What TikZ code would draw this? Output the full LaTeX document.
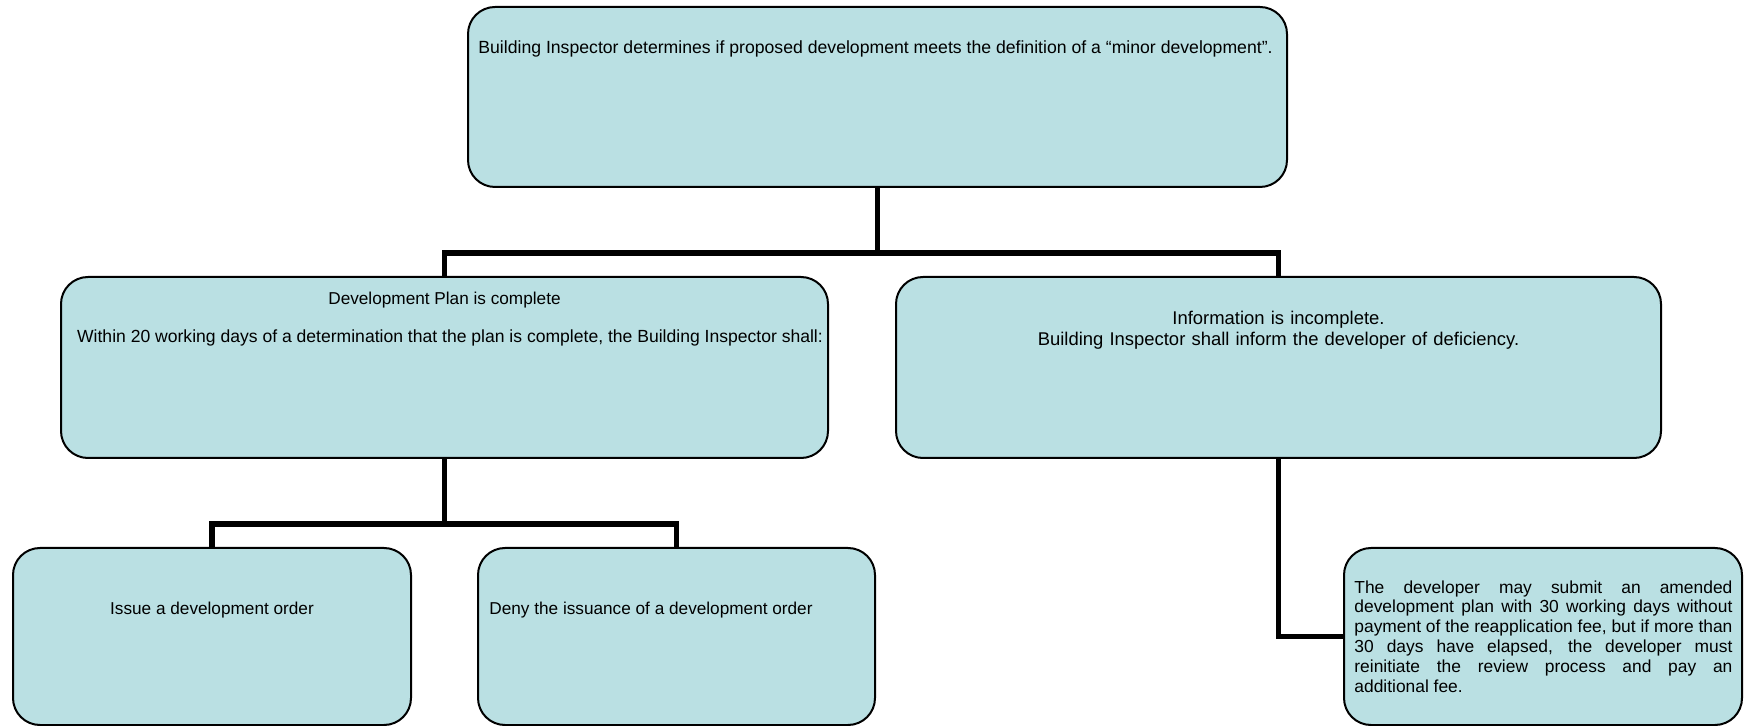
\documentclass[tikz,border=0pt]{standalone}
\usepackage{fontspec}
\setmainfont{Liberation Sans}
\usetikzlibrary{positioning}
\definecolor{boxfill}{RGB}{186,224,227}
\tikzset{
	box/.style={draw, fill=boxfill, line width=1pt, rounded corners=13.5pt, inner sep=0pt, outer sep=0pt},
	link/.style={line width=2.75pt},
	txt/.style={inner sep=0pt, font=\fontsize{8.6}{10}\selectfont},
}
\begin{document}
\begin{tikzpicture}[x=0.5pt,y=-0.5pt]
		
		\useasboundingbox (0,0) rectangle (1750,726);
		
		%Top box
		\node[box, minimum width=409.5pt, minimum height=90pt] (top) at (877.5,97) {};
		\node[txt, font=\fontsize{8.82}{10}\selectfont, anchor=base west] (toptext) at (478,54) {Building Inspector determines if proposed development meets the definition of a “minor development”.};
		
		%Plan complete
		\node[box, minimum width=383.5pt, minimum height=90.5pt] (complete) at (444.5,367.5) {};
		\node[txt, anchor=base] (completetitle) at (444.5,305) {Development Plan is complete};
		\node[txt, font=\fontsize{8.78}{10}\selectfont, anchor=base] (completebody) at (450,343) {Within 20 working days of a determination that the plan is complete, the Building Inspector shall:};
		
		%Information incomplete
		\node[box, minimum width=382.5pt, minimum height=90.5pt] (incomplete) at (1278.5,367.5) {};
		\node[txt, font=\fontsize{9.22}{10.5}\selectfont, text width=360pt, align=center, anchor=base] (incompletetext) at (1278.5,325) {Information is incomplete.\\ Building Inspector shall inform the developer of deficiency.};
		
		%Issue and deny
		\node[box, minimum width=199pt, minimum height=88.5pt] (issue) at (212,636.5) {};
		\node[txt, anchor=base] (issuetext) at (212,614) {Issue a development order};
		\node[box, minimum width=198.5pt, minimum height=88.5pt] (deny) at (676.5,636.5) {};
		\node[txt, anchor=base west] (denytext) at (489,614) {Deny the issuance of a development order};
		
		%Reapplication
		\node[box, minimum width=199pt, minimum height=88.5pt] (reapply) at (1543,636.5) {};
		\node[txt, font=\fontsize{8.7}{9.9}\selectfont, text width=189pt, align=justify, anchor=base west] (reapplytext) at (1354,593) {The developer may submit an amended\linebreak development plan with 30 working days without\linebreak payment of the reapplication fee, but if more than\linebreak 30 days have elapsed, the developer must\linebreak reinitiate the review process and pay an\linebreak additional fee.};
		
		%Connectors
		\coordinate (split) at (877.5,253);
		\draw[link] (top.south) -- (split);
		\draw[link] (complete.north) |- (split) -| (incomplete.north);
		\coordinate (splitlow) at (444.5,524);
		\draw[link] (complete.south) -- (splitlow);
		\draw[link] (issue.north) |- (splitlow) -| (deny.north);
		\draw[link] (incomplete.south) |- (reapply.west);
		
\end{tikzpicture}
\end{document}
